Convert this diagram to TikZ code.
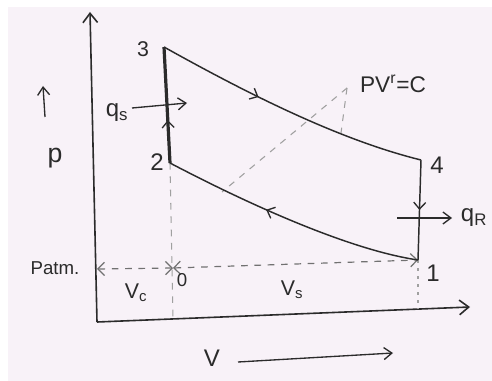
\documentclass[tikz,border=0pt]{standalone}
\usepackage{fontspec}
\setmainfont{Liberation Sans}
\usetikzlibrary{arrows.meta,decorations.markings}
\definecolor{paper}{HTML}{F8F2F8}
\definecolor{ink}{HTML}{2B2B2B}
\definecolor{faint}{HTML}{A0A0A0}
\begin{document}
\begin{tikzpicture}[x=0.75pt,y=-0.75pt,
  axis/.style={draw=ink, line width=1.2pt, -{Straight Barb[length=7pt,width=11pt]}},
  proc/.style={draw=ink, line width=1.1pt},
  thick23/.style={draw=ink, line width=2.4pt},
  heat/.style={draw=ink, line width=1pt, -{Straight Barb[length=6pt,width=9pt]}},
  dimline/.style={draw=faint!60!ink, line width=0.9pt, dash pattern=on 5pt off 5pt},
  dimarrow/.style={dimline, {Straight Barb[length=5pt,width=10pt]}-{Straight Barb[length=5pt,width=10pt]}},
  leader/.style={draw=faint, line width=0.8pt, dash pattern=on 5pt off 5pt},
  midarrow/.style={postaction={decorate, decoration={markings,
     mark=at position #1 with {\arrow[ink, line width=1pt]{Straight Barb[length=5pt,width=9pt]}}}}},
  lbl/.style={text=ink, inner sep=0pt}
]
\useasboundingbox (0,0) rectangle (492,381);
\fill[white] (0,0) rectangle (492,381);
\fill[paper] (8,7) rectangle (492,381);

% state points
\coordinate (p3) at (164,47);
\coordinate (p2) at (170,163);
\coordinate (p4) at (421,160);
\coordinate (p1) at (418,260);
\coordinate (o) at (97,322);
\coordinate (ytip) at (90,12);
\coordinate (xtip) at (470,307);
\coordinate (patmL) at (97,269);
\coordinate (zero) at (173,268);
\coordinate (zeroB) at (173,321);
\coordinate (oneB) at (418,309);
\coordinate (pvA) at (347,88);
\coordinate (pvOn34) at (341,133);
\coordinate (pvOn12) at (222,192);

% axes
\draw[axis] (o) -- (ytip);
\draw[axis] (o) -- (xtip);

% guide lines
\draw[leader] (p2) -- (zeroB);
\draw[leader, dash pattern=on 2pt off 4pt] (p1) -- (oneB);
\draw[dimarrow] (patmL) -- (zero);
\draw[dimarrow] (zero) -- (p1);
\draw[leader] (pvA) -- (pvOn34);
\draw[leader] (pvA) -- (pvOn12);

% cycle
\draw[thick23, midarrow=0.37] (p2) -- (p3);
\draw[proc, midarrow=0.38] (p3) .. controls (250,95) and (340,140) .. (p4);
\draw[proc, midarrow=0.5] (p4) -- (p1);
\draw[proc, midarrow=0.6] (p1) .. controls (350,250) and (250,205) .. (p2);

% heat arrows
\coordinate (qsT) at (132,108);
\coordinate (qsH) at (187,103);
\coordinate (qrT) at (397,218);
\coordinate (qrH) at (452,218);
\draw[heat] (qsT) -- (qsH);
\draw[heat] (qrT) -- (qrH);

% axis-name arrows
\coordinate (pT) at (45,117);
\coordinate (pH) at (43,86);
\coordinate (vT) at (238,362);
\coordinate (vH) at (393,353);
\draw[heat] (pT) -- (pH);
\draw[heat] (vT) -- (vH);

% labels
\node[lbl, font=\fontsize{16}{16}\selectfont] (l3) at (143,49) {3};
\node[lbl, font=\fontsize{18}{18}\selectfont] (l2) at (157,162) {2};
\node[lbl, font=\fontsize{18}{18}\selectfont] (l4) at (437,165) {4};
\node[lbl, font=\fontsize{18}{18}\selectfont] (l1) at (433,273) {1};
\node[lbl, font=\fontsize{14}{14}\selectfont] (l0) at (182,280) {0};
\node[lbl, font=\fontsize{18}{18}\selectfont] (lqs) at (117,113) {q\textsubscript{s}};
\node[lbl, font=\fontsize{18}{18}\selectfont] (lqr) at (474,218) {q\textsubscript{R}};
\node[lbl, font=\fontsize{17}{17}\selectfont] (lpv) at (393,84) {PV\textsuperscript{r}=C};
\node[lbl, font=\fontsize{14}{14}\selectfont] (lpatm) at (55,268) {Patm.};
\node[lbl, font=\fontsize{16}{16}\selectfont] (lvc) at (136,293) {V\textsubscript{c}};
\node[lbl, font=\fontsize{16}{16}\selectfont] (lvs) at (292,290) {V\textsubscript{s}};
\node[lbl, font=\fontsize{18}{18}\selectfont] (lv) at (212,358) {V};
\node[lbl, font=\fontsize{20}{20}\selectfont] (lp) at (55,158) {p};
\end{tikzpicture}
\end{document}
